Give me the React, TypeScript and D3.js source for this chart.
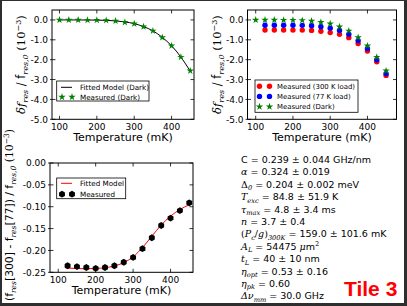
import * as d3 from 'd3';
import React from 'react';

// temperatures (mK)
const tempDark = [100, 125, 150, 175, 200, 225, 250, 275, 300, 325, 350, 375, 400, 425, 450];
const tempLoad = [125, 150, 175, 200, 225, 250, 275, 300, 325, 350, 375, 400, 425, 450];
const tempFitDiff = [120, 150, 175, 200, 225, 250, 275, 300, 325, 350, 375, 400, 425, 450];

// df/f0 (1e-3)
const darkMeas = [0.0, 0.0, 0.0, -0.01, -0.01, -0.02, -0.05, -0.12, -0.19, -0.34, -0.55, -0.88, -1.3, -1.87, -2.56];
const darkFit = [0.0, 0.0, -0.001, -0.004, -0.01, -0.022, -0.048, -0.1, -0.185, -0.335, -0.55, -0.875, -1.3, -1.87, -2.58];
const load300 = [-0.505, -0.507, -0.51, -0.512, -0.512, -0.527, -0.567, -0.636, -0.726, -0.891, -1.183, -1.566, -2.109, -2.791];
const load77 = [-0.27, -0.27, -0.271, -0.271, -0.273, -0.292, -0.34, -0.42, -0.53, -0.72, -1.04, -1.44, -2.0, -2.7];
const diffMeas = [-0.235, -0.237, -0.239, -0.241, -0.239, -0.235, -0.227, -0.216, -0.196, -0.171, -0.143, -0.126, -0.109, -0.091];
const diffFit = [-0.24, -0.2415, -0.2418, -0.2412, -0.2395, -0.2355, -0.228, -0.2145, -0.1935, -0.1675, -0.142, -0.1215, -0.1065, -0.0955];

const xTicks = [100, 200, 300, 400];
const yTicksTop = [0, -1, -2, -3, -4, -5];
const yTicksBottom = [0, -0.05, -0.1, -0.15, -0.2, -0.25];

const W = 407;
const H = 306;
const FONT = 'DejaVu Sans';
const SERIF = 'DejaVu Serif';

const GREEN = '#008000';
const RED = '#ff0000';
const BLUE = '#0000ff';

const star = d3.symbol().type(d3.symbolStar).size(17)();

function hexPath(r) {
  const pts = d3.range(6).map(i => {
    const a = -Math.PI / 2 + i * Math.PI / 3;
    return [r * Math.cos(a), r * Math.sin(a)];
  });
  return 'M' + pts.map(p => p.join(',')).join('L') + 'Z';
}
const hex = hexPath(3.4);

// segments: [text, kind] kind: n normal, i math italic, r math roman, sub, sup
function Rich({ x, y, size, segs, anchor, transform }) {
  let off = 0;
  const out = segs.map(([t, k], i) => {
    let target = 0;
    if (k === 'sub') target = size * 0.26;
    if (k === 'sup') target = -size * 0.38;
    const dy = target - off;
    off = target;
    const small = k === 'sub' || k === 'sup';
    const serif = k !== 'n';
    return (
      <tspan key={i} dy={dy}
        fontFamily={serif ? SERIF : FONT}
        fontStyle={k === 'i' || k === 'sub' ? 'italic' : 'normal'}
        fontSize={small ? size * 0.7 : size}>{t}</tspan>
    );
  });
  return (
    <text x={x} y={y} fontSize={size} textAnchor={anchor || 'start'} transform={transform} fill="#000">{out}</text>
  );
}

function Frame({ x, y, ticksY, fmt }) {
  const [x0, x1] = x.range();
  const [y1, y0] = y.range();
  return (
    <g fontFamily={FONT} fontSize={9} fill="#000">
      {xTicks.map(t => (
        <g key={'x' + t}>
          <line x1={x(t)} x2={x(t)} y1={y1} y2={y1 - 3.5} stroke="#000" strokeWidth={0.8} />
          <line x1={x(t)} x2={x(t)} y1={y0} y2={y0 + 3.5} stroke="#000" strokeWidth={0.8} />
          <text x={x(t)} y={y1 + 11} textAnchor="middle">{t}</text>
        </g>
      ))}
      {ticksY.map(t => (
        <g key={'y' + t}>
          <line x1={x0 - 2} x2={x0 + 3.5} y1={y(t)} y2={y(t)} stroke="#000" strokeWidth={0.8} />
          <line x1={x1} x2={x1 - 3.5} y1={y(t)} y2={y(t)} stroke="#000" strokeWidth={0.8} />
          <text x={x0 - 4} y={y(t) + 3.2} textAnchor="end">{fmt(t)}</text>
        </g>
      ))}
      <rect x={x0} y={y0} width={x1 - x0} height={y1 - y0} fill="none" stroke="#000" strokeWidth={1} />
      <text x={(x0 + x1) / 2} y={y1 + 22} textAnchor="middle" fontSize={11}>Temperature (mK)</text>
    </g>
  );
}

function Stars({ xs, ys, x, y, color }) {
  return (
    <g fill={color}>
      {xs.map((t, i) => (
        <path key={i} d={star} transform={`translate(${x(t)},${y(ys[i])})`} />
      ))}
    </g>
  );
}

function Dots({ xs, ys, x, y, color }) {
  return (
    <g fill={color}>
      {xs.map((t, i) => (
        <circle key={i} cx={x(t)} cy={y(ys[i])} r={2.7} />
      ))}
    </g>
  );
}

export default function App() {
  const fmt1 = v => (Math.abs(v) < 1e-9 ? '0.0' : v.toFixed(1));
  const fmt2 = v => (Math.abs(v) < 1e-9 ? '0.00' : v.toFixed(2));

  // top-left
  const xTL = d3.scaleLinear().domain([80, 460]).range([52, 194]);
  const yTL = d3.scaleLinear().domain([-5, 0.5]).range([119.3, 10]);
  // top-right
  const xTR = d3.scaleLinear().domain([78, 478]).range([247.5, 396.5]);
  const yTR = d3.scaleLinear().domain([-5, 0.5]).range([119.3, 10]);
  // bottom-left
  const xBL = d3.scaleLinear().domain([78, 460]).range([50, 193]);
  const yBL = d3.scaleLinear().domain([-0.25, 0]).range([272.3, 163]);

  const fitLineTL = d3.line().x(d => xTL(d[0])).y(d => yTL(d[1])).curve(d3.curveMonotoneX);
  const fitLineBL = d3.line().x(d => xBL(d[0])).y(d => yBL(d[1])).curve(d3.curveMonotoneX);

  const lines = [
    [['C = 0.239 ± 0.044 GHz/nm', 'n']],
    [['α', 'i'], [' = 0.324 ± 0.019', 'n']],
    [['Δ', 'r'], ['0', 'sub'], [' = 0.204 ± 0.002 meV', 'n']],
    [['T', 'i'], ['exc', 'sub'], [' = 84.8 ± 51.9 K', 'n']],
    [['τ', 'i'], ['max', 'sub'], [' = 4.8 ± 3.4 ms', 'n']],
    [['n', 'i'], [' = 3.7 ± 0.4', 'n']],
    [['(', 'r'], ['P', 'i'], ['c', 'sub'], ['/', 'r'], ['g', 'i'], [')', 'r'], ['300K', 'sub'], [' = 159.0 ± 101.6 mK', 'n']],
    [['A', 'i'], ['L', 'sub'], [' = 54475 ', 'n'], ['μ', 'i'], ['m', 'n'], ['2', 'sup']],
    [['t', 'i'], ['L', 'sub'], [' = 40 ± 10 nm', 'n']],
    [['η', 'i'], ['opt', 'sub'], [' = 0.53 ± 0.16', 'n']],
    [['η', 'i'], ['pk', 'sub'], [' = 0.60', 'n']],
    [['Δν', 'i'], ['mm', 'sub'], [' = 30.0 GHz', 'n']],
  ];

  return (
    <div style={{ position: 'fixed', left: 0, top: 0 }}>
      <svg width={W} height={H} style={{ display: 'block' }}>
        <rect x={0} y={0} width={W} height={H} fill="#2e2e2e" />
        <rect x={2} y={1} width={W - 5} height={H - 4} fill="#fff" />

        {/* top-left: dark */}
        <path d={fitLineTL(tempDark.map((t, i) => [t, darkFit[i]]))} fill="none" stroke="#000" strokeWidth={1} />
        <Stars xs={tempDark} ys={darkMeas} x={xTL} y={yTL} color={GREEN} />
        <Frame x={xTL} y={yTL} ticksY={yTicksTop} fmt={fmt1} />
        <g fontFamily={FONT} fontSize={7.2}>
          <rect x={56.7} y={81} width={92.3} height={20} fill="#fff" stroke="#000" strokeWidth={0.8} />
          <line x1={61} x2={72} y1={87.3} y2={87.3} stroke="#000" strokeWidth={1} />
          <text x={80} y={89.9}>Fitted Model (Dark)</text>
          <path d={star} transform="translate(62,97)" fill={GREEN} />
          <path d={star} transform="translate(72,97)" fill={GREEN} />
          <text x={80} y={99.6}>Measured (Dark)</text>
        </g>
        <Rich x={0} y={0} size={11.5} anchor="middle" transform="translate(25,64.5) rotate(-90)"
          segs={[['δf', 'i'], ['res', 'sub'], [' / f', 'n'], ['res,0', 'sub'], [' (10', 'r'], ['−3', 'sup'], [')', 'r']]} />

        {/* top-right: loads */}
        <Dots xs={tempLoad} ys={load300} x={xTR} y={yTR} color={RED} />
        <Dots xs={tempLoad} ys={load77} x={xTR} y={yTR} color={BLUE} />
        <Stars xs={tempDark} ys={darkMeas} x={xTR} y={yTR} color={GREEN} />
        <Frame x={xTR} y={yTR} ticksY={yTicksTop} fmt={fmt1} />
        <g fontFamily={FONT} fontSize={6.9}>
          <rect x={255} y={80} width={103} height={32.3} fill="#fff" stroke="#000" strokeWidth={0.8} />
          <circle cx={259.5} cy={86.3} r={2.7} fill={RED} />
          <circle cx={269.5} cy={86.3} r={2.7} fill={RED} />
          <text x={277} y={88.8}>Measured (300 K load)</text>
          <circle cx={259.5} cy={96.4} r={2.7} fill={BLUE} />
          <circle cx={269.5} cy={96.4} r={2.7} fill={BLUE} />
          <text x={277} y={98.9}>Measured (77 K load)</text>
          <path d={star} transform="translate(259.5,106.7)" fill={GREEN} />
          <path d={star} transform="translate(269.5,106.7)" fill={GREEN} />
          <text x={277} y={109.2}>Measured (Dark)</text>
        </g>
        <Rich x={0} y={0} size={11.5} anchor="middle" transform="translate(221,64.5) rotate(-90)"
          segs={[['δf', 'i'], ['res', 'sub'], [' / f', 'n'], ['res,0', 'sub'], [' (10', 'r'], ['−3', 'sup'], [')', 'r']]} />

        {/* bottom-left: difference */}
        <path d={fitLineBL(tempFitDiff.map((t, i) => [t, diffFit[i]]))} fill="none" stroke={RED} strokeWidth={1} />
        <g fill="#000">
          {tempLoad.map((t, i) => (
            <path key={i} d={hex} transform={`translate(${xBL(t)},${yBL(diffMeas[i])})`} />
          ))}
        </g>
        <Frame x={xBL} y={yBL} ticksY={yTicksBottom} fmt={fmt2} />
        <g fontFamily={FONT} fontSize={7.2}>
          <rect x={56.7} y={178} width={69} height={20.7} fill="#fff" stroke="#000" strokeWidth={0.8} />
          <line x1={61} x2={72} y1={183.3} y2={183.3} stroke={RED} strokeWidth={1} />
          <text x={80} y={185.9}>Fitted Model</text>
          <path d={hex} transform="translate(62,194.2)" fill="#000" />
          <path d={hex} transform="translate(72,194.2)" fill="#000" />
          <text x={80} y={196.8}>Measured</text>
        </g>
        <Rich x={0} y={0} size={10.8} anchor="middle" transform="translate(13,215) rotate(-90)"
          segs={[['(f', 'n'], ['res', 'sub'], ['[300] - f', 'n'], ['res', 'sub'], ['[77]) / f', 'n'], ['res,0', 'sub'], [' (10', 'r'], ['−3', 'sup'], [')', 'r']]} />

        {/* parameter text */}
        {lines.map((segs, i) => (
          <Rich key={i} x={241} y={163 + i * 12.4} size={9.5} segs={segs} />
        ))}

        <text x={344} y={296} fontFamily="Liberation Sans" fontWeight="bold" fontSize={21} fill={RED}>Tile 3</text>
      </svg>
    </div>
  );
}
